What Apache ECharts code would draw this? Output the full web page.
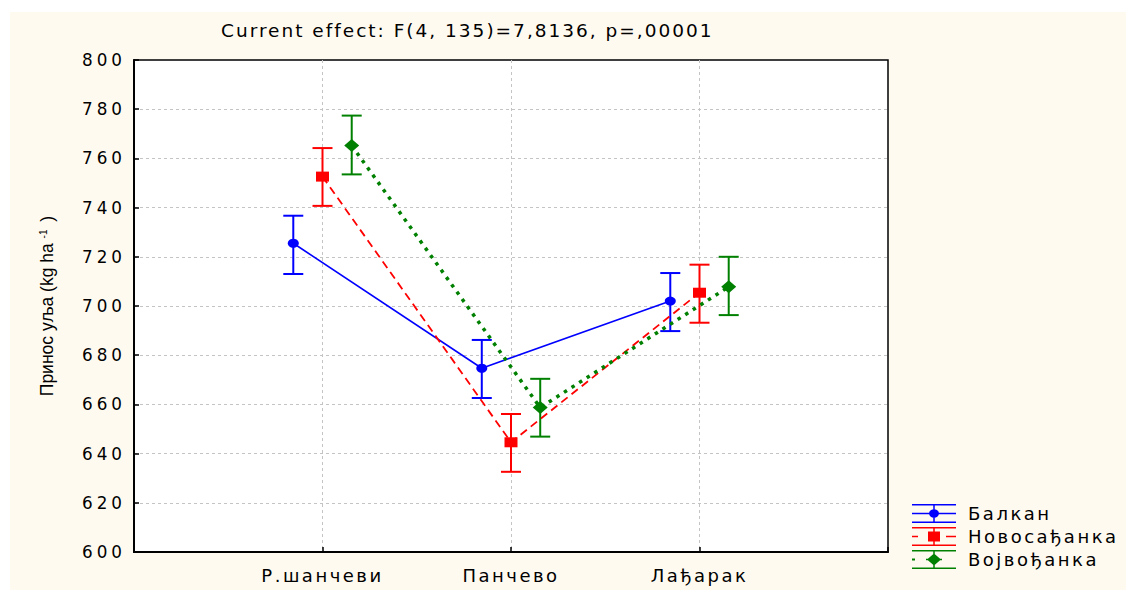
<!DOCTYPE html>
<html>
<head>
<meta charset="utf-8">
<script src="https://cdn.jsdelivr.net/npm/echarts@6/dist/echarts.min.js"></script>
<style>
  body { margin: 0; background: #fff; }
  #wrap { position: relative; width: 1126px; height: 590px; background: #fff; }
  #bg { position: absolute; left: 10px; top: 12px; right: 0; bottom: 0; background: #fffaf0; }
  #chart { position: absolute; left: 0; top: 0; width: 1126px; height: 590px; }
  /* широк размак слова као у оригиналу */
  #chart text { letter-spacing: 2.5px; }
  #chart text[style*="18.5px"] { letter-spacing: 2px; }
  #chart text[style*="16.8px"] { letter-spacing: 4px; }
  #chart text[style*="17.5px"], #chart text[style*="10px"] { letter-spacing: 0; }
</style>
</head>
<body>
<div id="wrap">
  <div id="bg"></div>
  <div id="chart"></div>
</div>
<script>
// локације
const categories = ['Р.шанчеви', 'Панчево', 'Лађарак']
// сорте
const seriesNames = ['Балкан', 'Новосађанка', 'Војвођанка']
// средње вредности
const balkanMean = [725.5, 674.7, 702.0]
const novosadjankaMean = [752.6, 644.6, 705.4]
const vojvodjankaMean = [765.2, 658.7, 707.8]
// горње и доње границе
const balkanUpper = [736.7, 686.2, 713.4]
const balkanLower = [713.0, 662.6, 689.8]
const novosadjankaUpper = [764.2, 656.1, 716.8]
const novosadjankaLower = [740.7, 632.6, 693.2]
const vojvodjankaUpper = [777.4, 670.4, 720.0]
const vojvodjankaLower = [753.5, 646.9, 696.3]
// подеоци y осе
const yTicks = [600, 620, 640, 660, 680, 700, 720, 740, 760, 780, 800]

const OFF = 0.155
const gridColor = '#c4c4c4'
const wideFont = 'DejaVu Sans'

function points(means, off) {
  return means.map((v, i) => [i + 1 + off, v])
}

function errBars(lower, upper, off, color) {
  return {
    type: 'custom',
    z: 2,
    silent: true,
    data: lower.map((lo, i) => [i + 1 + off, lo, upper[i]]),
    encode: { x: 0, y: [1, 2] },
    renderItem: function (params, api) {
      let x = api.value(0)
      let pLo = api.coord([x, api.value(1)])
      let pHi = api.coord([x, api.value(2)])
      let w = 10
      let st = { stroke: color, lineWidth: 2 }
      return {
        type: 'group',
        children: [
          { type: 'line', shape: { x1: pLo[0], y1: pLo[1], x2: pHi[0], y2: pHi[1] }, style: st },
          { type: 'line', shape: { x1: pHi[0] - w, y1: pHi[1], x2: pHi[0] + w, y2: pHi[1] }, style: st },
          { type: 'line', shape: { x1: pLo[0] - w, y1: pLo[1], x2: pLo[0] + w, y2: pLo[1] }, style: st },
        ],
      }
    },
  }
}

// иконе легенде (линија са интервалом)
const caps = 'M0,0H44V1.5H0Z M0,17.5H44V19H0Z M21.25,0H22.75V19H21.25Z '
const iconBalkan = 'path://' + caps + 'M0,8.75H44V10.25H0Z M17,9.5A5,4.2,0,1,1,27,9.5A5,4.2,0,1,1,17,9.5Z'
const iconNovo = 'path://' + caps + 'M0,8.75H6V10.25H0Z M34,8.75H44V10.25H34Z M16,4.5H28V14.5H16Z'
const iconVojv = 'path://' + caps + 'M0,8.5H3V10.5H0Z M14,8.75H30V10.25H14Z M22,3.5L29,9.5L22,15.5L15,9.5Z'

let myChart = echarts.init(document.getElementById('chart'), null, { renderer: 'svg' })
myChart.setOption({
  animation: false,
  backgroundColor: 'transparent',
  textStyle: { fontFamily: wideFont, color: '#000' },
  title: {
    text: 'Current effect: F(4, 135)=7,8136, p=,00001',
    left: 221,
    top: 21,
    padding: 0,
    textStyle: { fontSize: 18.5, fontWeight: 'normal', color: '#000', fontFamily: wideFont },
  },
  grid: {
    left: 134,
    right: 238,
    top: 60,
    bottom: 38,
    show: true,
    backgroundColor: '#fff',
    borderColor: '#000',
    borderWidth: 1.5,
  },
  legend: {
    orient: 'vertical',
    left: 912,
    top: 504,
    padding: 0,
    itemWidth: 44,
    itemHeight: 19,
    itemGap: 4,
    itemStyle: { borderWidth: 0 },
    textStyle: { fontSize: 18, color: '#000', fontFamily: wideFont, padding: [0, 0, 0, 7] },
    data: [
      { name: seriesNames[0], icon: iconBalkan },
      { name: seriesNames[1], icon: iconNovo },
      { name: seriesNames[2], icon: iconVojv },
    ],
  },
  xAxis: {
    type: 'value',
    min: 0,
    max: 4,
    interval: 1,
    axisLine: { show: true, lineStyle: { color: '#000', width: 2 } },
    axisTick: { show: true, inside: true, length: 5, lineStyle: { color: '#000', width: 1.5 } },
    axisLabel: {
      fontSize: 18,
      fontFamily: wideFont,
      color: '#000',
      margin: 14,
      formatter: function (v) {
        return categories[v - 1] || ''
      },
    },
    splitLine: {
      show: true,
      lineStyle: { color: ['transparent', gridColor, gridColor, gridColor, 'transparent'], type: [3, 3], width: 1 },
    },
  },
  yAxis: {
    type: 'value',
    min: yTicks[0],
    max: yTicks[yTicks.length - 1],
    interval: yTicks[1] - yTicks[0],
    name: '{a|Принос уља (kg ha }{s|-1}{a| )}',
    nameLocation: 'middle',
    nameRotate: 90,
    nameGap: 78,
    nameTextStyle: {
      rich: {
        a: { fontSize: 17.5, color: '#000', fontFamily: 'Liberation Sans' },
        s: { fontSize: 10, color: '#000', fontFamily: 'Liberation Sans', verticalAlign: 'top', padding: [0, 3, 8, 0] },
      },
    },
    axisLine: { show: true, lineStyle: { color: '#000', width: 2 } },
    axisTick: { show: true, inside: true, length: 5, lineStyle: { color: '#000', width: 1.5 } },
    axisLabel: { fontSize: 16.8, fontFamily: wideFont, color: '#000', margin: 8 },
    splitLine: {
      show: true,
      lineStyle: {
        color: ['transparent', gridColor, gridColor, gridColor, gridColor, gridColor, gridColor, gridColor, gridColor, gridColor, 'transparent'],
        type: [3, 3],
        width: 1,
      },
    },
  },
  series: [
    errBars(balkanLower, balkanUpper, -OFF, '#0000ff'),
    errBars(novosadjankaLower, novosadjankaUpper, 0, '#ff0000'),
    errBars(vojvodjankaLower, vojvodjankaUpper, OFF, '#008000'),
    {
      name: seriesNames[0],
      type: 'line',
      z: 3,
      data: points(balkanMean, -OFF),
      symbol: 'circle',
      symbolSize: [11, 9],
      itemStyle: { color: '#0000ff', borderWidth: 0 },
      lineStyle: { color: '#0000ff', width: 1.6 },
    },
    {
      name: seriesNames[1],
      type: 'line',
      z: 3,
      data: points(novosadjankaMean, 0),
      symbol: 'rect',
      symbolSize: [13, 10],
      itemStyle: { color: '#ff0000', borderWidth: 0 },
      lineStyle: { color: '#ff0000', width: 1.8, type: [8, 5] },
    },
    {
      name: seriesNames[2],
      type: 'line',
      z: 3,
      data: points(vojvodjankaMean, OFF),
      symbol: 'diamond',
      symbolSize: [15, 13],
      itemStyle: { color: '#008000', borderWidth: 0 },
      lineStyle: { color: '#008000', width: 3.5, type: [3.5, 5.5] },
    },
  ],
})
</script>
</body>
</html>
